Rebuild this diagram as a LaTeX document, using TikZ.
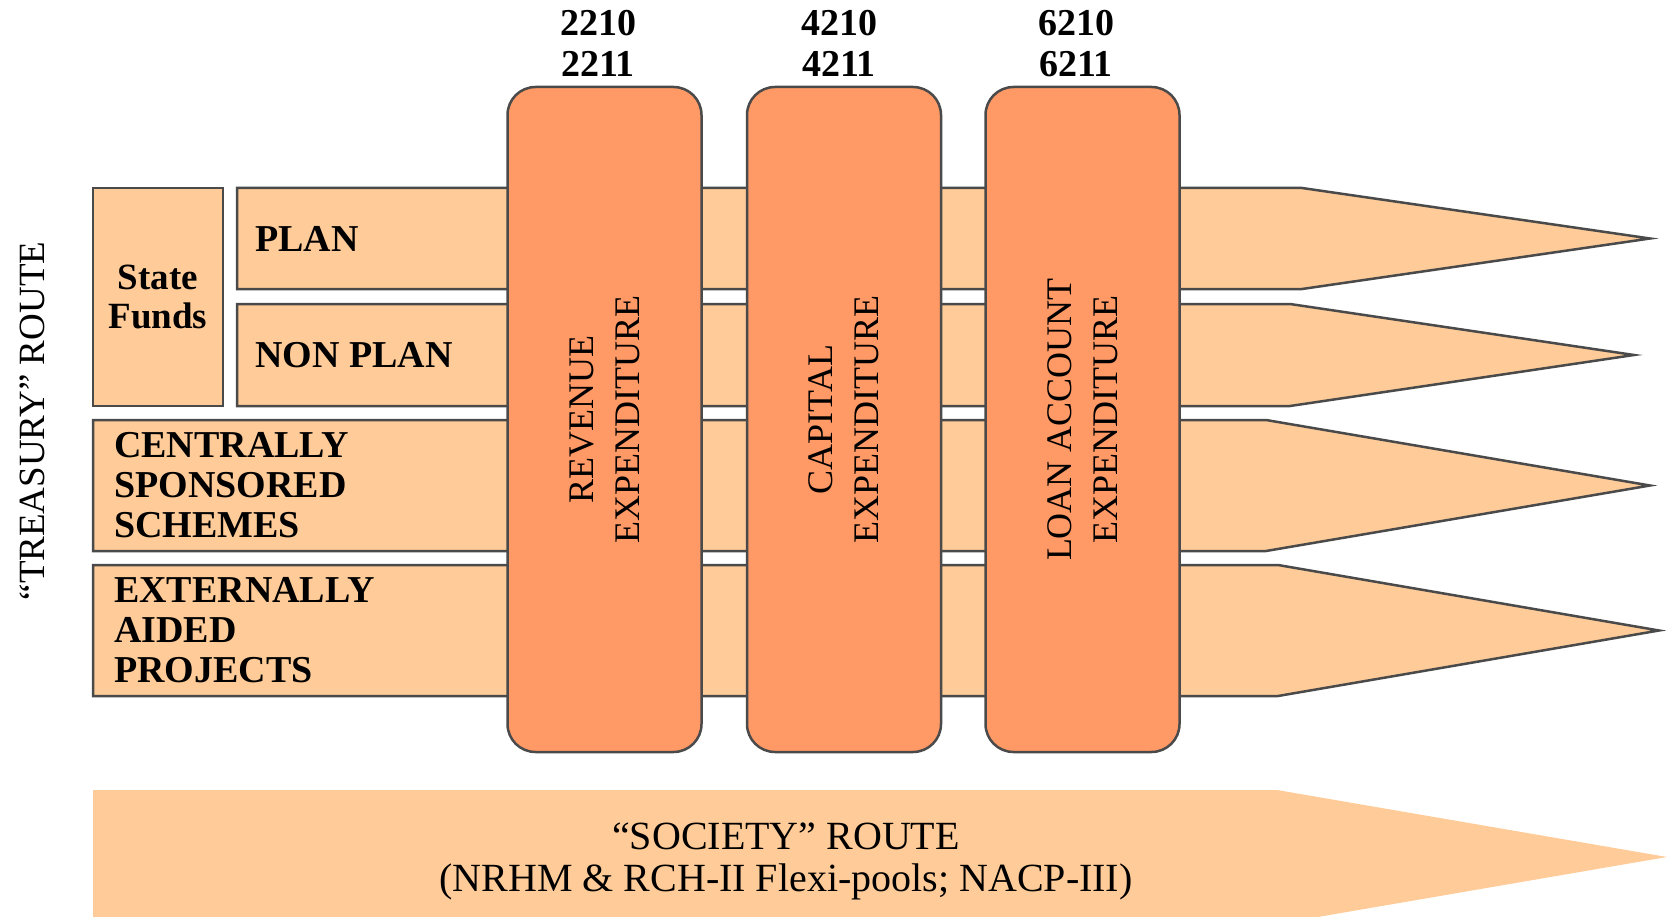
\documentclass[tikz,border=0pt]{standalone}
\usepackage{fontspec}
\setmainfont{Liberation Serif}
\usetikzlibrary{positioning}

\definecolor{peach}{HTML}{FFCC99}
\definecolor{tangerine}{HTML}{FF9966}
\definecolor{edgegray}{HTML}{4A4A4A}

\begin{document}
\begin{tikzpicture}[x=1pt, y=-1pt,
    strip/.style={fill=peach, draw=edgegray, line width=2.5pt},
    colbox/.style={fill=tangerine, draw=edgegray, line width=2.5pt, rounded corners=28pt,
      rotate=90, minimum width=665pt, minimum height=194pt, inner sep=0pt,
      align=center, font=\fontsize{36}{46}\selectfont},
    lbl/.style={anchor=west, align=left, inner sep=0pt, font=\bfseries\fontsize{38}{40}\selectfont},
    code/.style={align=center, inner sep=0pt, font=\bfseries\fontsize{38}{41}\selectfont}]
    \useasboundingbox (0,0) rectangle (1667,917);
    \clip (0,0) rectangle (1667,917);

    % treasury rows, drawn behind the expenditure heads
    \draw[strip] (237,188) -- (1302,188) -- (1650,238.5) -- (1302,289) -- (237,289) -- cycle;
    \draw[strip] (237,304) -- (1290,304) -- (1634,355) -- (1290,406) -- (237,406) -- cycle;
    \draw[strip] (93,420) -- (1266,420) -- (1650,485.5) -- (1266,551) -- (93,551) -- cycle;
    \draw[strip] (93,565) -- (1278,565) -- (1659,630.5) -- (1278,696) -- (93,696) -- cycle;
    \node[strip, minimum width=130pt, minimum height=218pt, inner sep=0pt, align=center,
      font=\bfseries\fontsize{37}{39}\selectfont] (state) at (158,297) {State\\Funds};

    % society route
    \fill[peach] (93,790) -- (1277,790) -- (1667,857) -- (1277,924) -- (93,924) -- cycle;

    % expenditure heads
    \node[colbox] (rev) at (604.5,419.5) {REVENUE\\EXPENDITURE};
    \node[colbox] (cap) at (844,419.5) {CAPITAL\\EXPENDITURE};
    \node[colbox] (loan) at (1082.5,419.5) {LOAN ACCOUNT\\EXPENDITURE};

    \node[code] (revcode) at (598,43.5) {2210\\2211};
    \node[code] (capcode) at (839,43.5) {4210\\4211};
    \node[code] (loancode) at (1076,43.5) {6210\\6211};

    % row labels
    \node[lbl] (plan) at (255,238.5) {PLAN};
    \node[lbl] (nonplan) at (255,355) {NON PLAN};
    \node[lbl] (css) at (114,485.5) {CENTRALLY\\SPONSORED\\SCHEMES};
    \node[lbl] (eap) at (114,630.5) {EXTERNALLY\\AIDED\\PROJECTS};

    \node[rotate=90, font=\fontsize{37}{40}\selectfont] (treasury) at (32,421) {``TREASURY'' ROUTE};
    \node[align=center, font=\fontsize{40}{42}\selectfont] (society) at (786,861)
      {``SOCIETY'' ROUTE\\(NRHM \& RCH-II Flexi-pools; NACP-III)};
  \end{tikzpicture}
\end{document}
